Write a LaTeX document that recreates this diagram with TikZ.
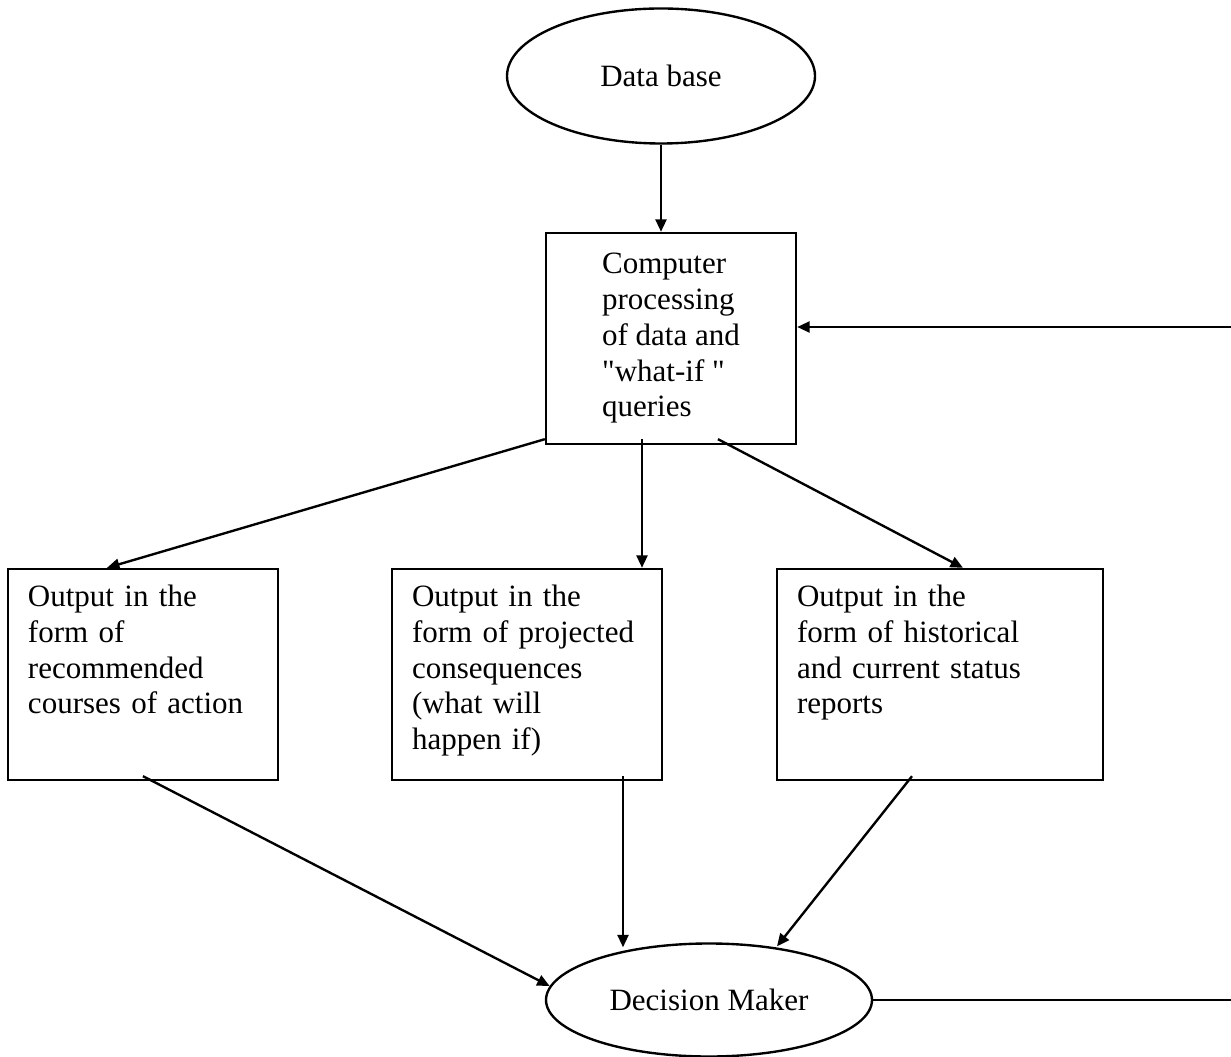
\documentclass[tikz,border=0pt]{standalone}
\usepackage{fontspec}
\setmainfont{Liberation Serif}[Ligatures=TeXOff]
\usepackage{tikz}
\usetikzlibrary{shapes.geometric,arrows.meta,calc,positioning}

\begin{document}
\begin{tikzpicture}[
                x=0.4pt, y=-0.4pt,
                line width=0.95pt,
                every node/.style={font=\fontsize{12.4pt}{14.3pt}\selectfont},
                oval/.style={
                    draw,
                    ellipse,
                    inner sep=0pt
                },
                procbox/.style={
                    draw,
                    rectangle,
                    align=left,
                    minimum width=100pt,
                    minimum height=84.4pt
                },
                outbox/.style={
                    draw,
                    rectangle,
                    align=left,
                    inner xsep=8pt,
                    inner ysep=7pt,
                    text height=8pt,
                    text depth=62.4pt
                },
                flow/.style={-{Triangle[length=5pt,width=4.4pt]}}
            ]
                \useasboundingbox (0,0) rectangle (1231,1057);

                \node[oval, minimum width=123.2pt, minimum height=54pt] (db) at (661,76) {Data base};

                \node[procbox] (comp) at (671,338.5) {Computer\\processing\\of data and\\"what-if "\\queries};

                \node[outbox, text width=92pt] (outA) at (143,674.5)
                    {Output in the\\form of\\recommended\\courses of action};
                \node[outbox, text width=92pt] (outB) at (527,674.5)
                    {Output in the\\form of projected\\consequences\\(what will\\happen if)};
                \node[outbox, text width=114.4pt] (outC) at (940,674.5)
                    {Output in the\\form of historical\\and current status\\reports};

                \node[oval, minimum width=130.4pt, minimum height=45.2pt] (dm) at (709,1000) {Decision Maker};

                \coordinate (edgeTop) at (1231,327);
                \coordinate (edgeBot) at (1231,1000);

                \draw[flow] (db.south) -- (db.south |- comp.north);

                \draw[flow] ($(comp.south west)+(0,-6)$) -- ($(outA.north)+(-36,0)$);
                \draw[flow] ($(comp.south)+(-29,-6)$) -- ($(outB.north)+(115,0)$);
                \draw[flow] ($(comp.south)+(47,-6)$) -- ($(outC.north)+(23,0)$);

                \draw[flow] ($(outA.south)+(0,-5)$) -- (dm.175);
                \draw[flow] ($(outB.south)+(96,-5)$) -- ($(dm.north)+(-86,5)$);
                \draw[flow] ($(outC.south)+(-28,-5)$) -- ($(dm.north)+(68,4)$);

                \draw (dm.east) -- (edgeBot);
                \draw[flow] (edgeTop) -- (edgeTop -| comp.east);

            \end{tikzpicture}
\end{document}
